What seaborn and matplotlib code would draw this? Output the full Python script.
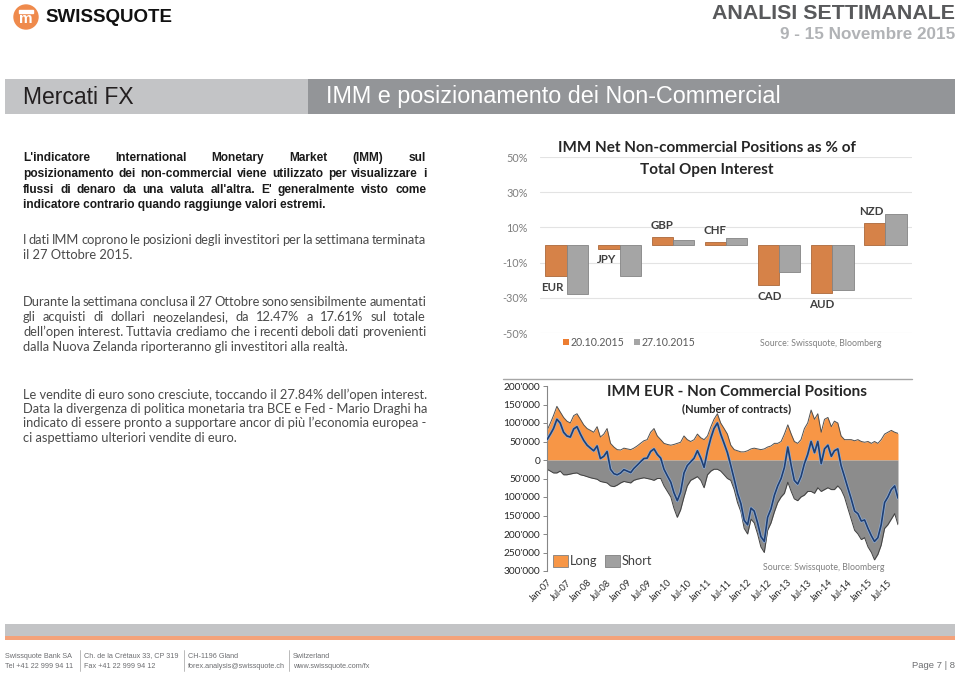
import numpy as np
import pandas as pd
import matplotlib
matplotlib.use('Agg')
import matplotlib.pyplot as plt
import matplotlib.dates as mdates
from matplotlib.patches import Rectangle, Ellipse
from matplotlib.lines import Line2D
import seaborn as sns

# --- chart 1: IMM net non-commercial positions (% of open interest)
currencies = ['EUR', 'JPY', 'GBP', 'CHF', 'CAD', 'AUD', 'NZD']
report_dates = ['20.10.2015', '27.10.2015']
pct_20oct = [-17.4, -2.1, 4.7, 1.9, -22.6, -27.5, 12.47]
pct_27oct = [-27.84, -17.8, 2.7, 4.0, -15.4, -25.6, 17.61]

# --- chart 2: IMM EUR non-commercial positions, monthly, thousands of contracts
eur_start = '2007-01-01'
eur_long = [80, 100, 120, 145, 130, 115, 105, 100, 120, 125, 110, 95,
            85, 80, 75, 90, 62, 70, 85, 45, 35, 28, 27, 32,
            30, 28, 32, 38, 45, 52, 55, 75, 85, 65, 55, 45,
            42, 40, 42, 45, 48, 65, 55, 50, 55, 70, 60, 55,
            65, 90, 110, 125, 100, 85, 70, 40, 28, 25, 22, 22,
            25, 30, 32, 30, 28, 30, 35, 38, 45, 45, 50, 70,
            95, 70, 50, 45, 55, 85, 100, 135, 110, 125, 75, 110,
            115, 90, 105, 100, 65, 55, 55, 55, 52, 55, 50, 48,
            50, 45, 50, 45, 55, 70, 75, 80, 75, 72]
eur_short = [-25, -30, -35, -35, -30, -40, -40, -38, -36, -35, -40, -42,
             -45, -48, -50, -52, -58, -60, -62, -70, -72, -68, -62, -58,
             -60, -62, -55, -52, -50, -48, -50, -52, -55, -50, -50, -70,
             -85, -100, -130, -155, -135, -100, -70, -55, -50, -45, -55, -75,
             -40, -30, -25, -25, -30, -40, -50, -55, -80, -115, -140, -185,
             -200, -160, -170, -200, -235, -250, -190, -170, -140, -115, -100, -90,
             -60, -85, -105, -110, -100, -95, -85, -85, -90, -75, -85, -80,
             -75, -80, -80, -70, -80, -100, -130, -160, -190, -200, -215, -210,
             -235, -250, -270, -255, -230, -185, -175, -160, -145, -175]

W, H = 960, 676
sns.set_theme(style='white')
plt.rcParams['font.family'] = ['Lato', 'DejaVu Sans']

fig = plt.figure(figsize=(W / 100, H / 100), dpi=100)
renderer = fig.canvas.get_renderer()


def fy(py):
    return 1 - py / H


def put_line(x, y, s, width=None, **kw):
    # one line of body text, optionally justified to a given pixel width
    if width is None:
        fig.text(x / W, fy(y), s, va='center', ha='left', **kw)
        return
    words = s.split(' ')
    arts = [fig.text(0, fy(y), w, va='center', ha='left', **kw) for w in words]
    widths = [a.get_window_extent(renderer).width for a in arts]
    gap = (width - sum(widths)) / (len(words) - 1)
    cur = x
    for a, w in zip(arts, widths):
        a.set_x(cur / W)
        cur += w + gap


narrow = ['Liberation Sans Narrow', 'Liberation Sans', 'DejaVu Sans']
arial = ['Liberation Sans', 'DejaVu Sans']

# ---------------- page header
fig.add_artist(Ellipse((26 / W, fy(17)), 24 / W, 24 / H, transform=fig.transFigure,
                       color='#ef8a4c', zorder=3))
fig.add_artist(Rectangle((19 / W, fy(12.5)), 14 / W, 2 / H, transform=fig.transFigure,
                         color='white', zorder=4))
fig.text(26 / W, fy(19), 'm', ha='center', va='center', color='white',
         fontsize=11, fontweight='bold', family=arial, zorder=5)
fig.text(45 / W, fy(17), 'SWISSQUOTE', ha='left', va='center', color='#111111',
         fontsize=13.5, fontweight='bold', family=narrow)
fig.text(955 / W, fy(19), 'ANALISI SETTIMANALE', ha='right', va='baseline',
         color='#58595b', fontsize=15.4, fontweight='bold', family=arial)
fig.text(955 / W, fy(39), '9 - 15 Novembre 2015', ha='right', va='baseline',
         color='#b1b3b6', fontsize=12.3, fontweight='bold', family=arial)

fig.add_artist(Rectangle((5 / W, fy(114)), 303 / W, 35 / H, transform=fig.transFigure,
                         color='#c3c4c6', lw=0))
fig.add_artist(Rectangle((308 / W, fy(114)), 647 / W, 35 / H, transform=fig.transFigure,
                         color='#939598', lw=0))
fig.text(23 / W, fy(97), 'Mercati FX', ha='left', va='center', color='#231f20',
         fontsize=16.5, family=arial)
fig.text(326 / W, fy(97), 'IMM e posizionamento dei Non-Commercial', ha='left',
         va='center', color='white', fontsize=16.8, family=arial)

# ---------------- left column text
bold_par = ["L'indicatore International Monetary Market (IMM) sul",
            "posizionamento dei non-commercial viene utilizzato per visualizzare i",
            "flussi di denaro da una valuta all'altra. E' generalmente visto come",
            "indicatore contrario quando raggiunge valori estremi."]
for i, (s, yy) in enumerate(zip(bold_par, [158, 174, 190, 205])):
    put_line(23, yy, s, width=403 if i < 3 else None, fontsize=8.6,
             fontweight='bold', color='#1a1a1a', family=arial)

body = dict(fontsize=9.3, color='#4a4a4a')
par2 = ["I dati IMM coprono le posizioni degli investitori per la settimana terminata",
        "il 27 Ottobre 2015."]
for i, (s, yy) in enumerate(zip(par2, [240, 255])):
    put_line(23, yy, s, width=403 if i == 0 else None, **body)

par3 = ["Durante la settimana conclusa il 27 Ottobre sono sensibilmente aumentati",
        "gli acquisti di dollari neozelandesi, da 12.47% a 17.61% sul totale",
        "dell\u2019open interest. Tuttavia crediamo che i recenti deboli dati provenienti",
        "dalla Nuova Zelanda riporteranno gli investitori alla realtà."]
for i, (s, yy) in enumerate(zip(par3, [302, 317, 332, 347])):
    put_line(23, yy, s, width=403 if i < 3 else None, **body)

par4 = ["Le vendite di euro sono cresciute, toccando il 27.84% dell\u2019open interest.",
        "Data la divergenza di politica monetaria tra BCE e Fed - Mario Draghi ha",
        "indicato di essere pronto a supportare ancor di più l\u2019economia europea -",
        "ci aspettiamo ulteriori vendite di euro."]
for s, yy in zip(par4, [395, 409, 423, 438]):
    put_line(23, yy, s, **body)

# ---------------- chart 1: grouped bars
orange, grey = '#ed7d31', '#a5a5a5'
df_pct = pd.DataFrame({
    'ccy': currencies * 2,
    'date': [report_dates[0]] * len(currencies) + [report_dates[1]] * len(currencies),
    'pct': pct_20oct + pct_27oct,
})
ax1 = fig.add_axes([540 / W, fy(333), 372 / W, 176 / H])
sns.barplot(data=df_pct, x='ccy', y='pct', hue='date', palette=[orange, grey],
            width=0.8, legend=False, ax=ax1, zorder=3)
for p in ax1.patches:
    fc = p.get_facecolor()
    p.set_edgecolor(tuple(c * 0.8 for c in fc[:3]))
    p.set_linewidth(0.6)
ax1.set_xlim(-0.5, 6.5)
ax1.set_ylim(-50, 50)
ax1.set_yticks([-50, -30, -10, 10, 30, 50])
ax1.set_yticklabels([f'{v}%' for v in [-50, -30, -10, 10, 30, 50]])
ax1.yaxis.grid(True, color='#e3e3e3', lw=0.8, zorder=0)
ax1.set_xticks([])
ax1.set_xlabel('')
ax1.set_ylabel('')
ax1.tick_params(axis='y', length=0, pad=9, labelsize=7.8, labelcolor='#7f7f7f')
sns.despine(ax=ax1, left=True, bottom=True)

label_pos = [(-0.26, -24.4), (0.75, -8), (1.79, 10.8), (2.80, 8),
             (3.82, -29), (4.81, -34), (5.73, 18.8)]
for ccy, (lx, ly) in zip(currencies, label_pos):
    ax1.text(lx, ly, ccy, ha='center', va='center', fontsize=8.3,
             fontweight='bold', color='#404040')

fig.text(707 / W, fy(148), 'IMM Net Non-commercial Positions as % of', ha='center',
         va='center', fontsize=11, fontweight='bold', color='#262626')
fig.text(707 / W, fy(170), 'Total Open Interest', ha='center', va='center',
         fontsize=11, fontweight='bold', color='#262626')
for col, lx, lab in [(orange, 563, report_dates[0]), (grey, 634, report_dates[1])]:
    fig.add_artist(Rectangle((lx / W, fy(345)), 6 / W, 6 / H,
                             transform=fig.transFigure, color=col, lw=0))
    fig.text((lx + 8) / W, fy(342), lab, ha='left', va='center', fontsize=7.6,
             color='#595959')
fig.text(760 / W, fy(343), 'Source: Swissquote, Bloomberg', ha='left', va='center',
         fontsize=6.3, color='#7f7f7f')

# ---------------- chart 2: EUR long / short / net
months = pd.date_range(eur_start, periods=len(eur_long), freq='MS')
df_eur = pd.DataFrame({'date': months,
                       'long': np.array(eur_long) * 1000,
                       'short': np.array(eur_short) * 1000})
df_eur['net'] = df_eur['long'] + df_eur['short']

fig.add_artist(Line2D([503 / W, 912 / W], [fy(379), fy(379)],
                      transform=fig.transFigure, color='#a6a6a6', lw=1))
ax2 = fig.add_axes([547 / W, fy(571), 351 / W, 185 / H])
ax2.fill_between(df_eur['date'], 0, df_eur['long'], color='#f79646', lw=0, zorder=1)
ax2.fill_between(df_eur['date'], df_eur['short'], 0, color='#8c8c8c', lw=0, zorder=1)
ax2.plot(df_eur['date'], df_eur['long'], color='#505050', lw=0.7, zorder=2)
ax2.plot(df_eur['date'], df_eur['short'], color='#404040', lw=0.7, zorder=2)
sns.lineplot(data=df_eur, x='date', y='net', color='#8fadd6', lw=2.2, ax=ax2, zorder=3)
sns.lineplot(data=df_eur, x='date', y='net', color='#1f3f73', lw=1.2, ax=ax2, zorder=4)
ax2.set_xlim(months[0], months[-1])
ax2.set_ylim(-300000, 200000)
ax2.set_yticks(np.arange(-300000, 200001, 50000))
ax2.yaxis.set_major_formatter(
    matplotlib.ticker.FuncFormatter(lambda v, p: f'{abs(int(v)):,}'.replace(',', "'")))
xt = pd.date_range('2007-01-01', '2015-07-01', freq='6MS')
ax2.set_xticks(xt)
ax2.xaxis.set_major_formatter(mdates.DateFormatter('%b-%y'))
plt.setp(ax2.get_xticklabels(), rotation=45, ha='right', rotation_mode='anchor')
ax2.tick_params(axis='x', length=0, pad=5, labelsize=6.6, labelcolor='#262626')
ax2.tick_params(axis='y', length=3, width=0.7, color='#868686', direction='out',
                pad=2, labelsize=7.3, labelcolor='#262626', left=True)
ax2.set_xlabel('')
ax2.set_ylabel('')
for s in ['top', 'right', 'bottom']:
    ax2.spines[s].set_visible(False)
ax2.spines['left'].set_color('#868686')
ax2.spines['left'].set_linewidth(0.8)
ax2.set_facecolor('none')

fig.text(737 / W, fy(392), 'IMM EUR - Non Commercial Positions', ha='center', va='center',
         fontsize=11, fontweight='bold', color='#262626')
fig.text(737 / W, fy(409), '(Number of contracts)', ha='center', va='center',
         fontsize=8, fontweight='bold', color='#262626')
for col, lx, lab in [('#f79646', 553, 'Long'), ('#a0a0a0', 605, 'Short')]:
    fig.add_artist(Rectangle((lx / W, fy(567)), 15 / W, 12 / H, transform=fig.transFigure,
                             facecolor=col, edgecolor='#7f7f7f', lw=0.6))
    fig.text((lx + 17) / W, fy(561), lab, ha='left', va='center', fontsize=9.2,
             color='#404040')
fig.text(763 / W, fy(568), 'Source: Swissquote, Bloomberg', ha='left', va='center',
         fontsize=6.3, color='#7f7f7f')

# ---------------- footer
fig.add_artist(Rectangle((5 / W, fy(636)), 950 / W, 12 / H, transform=fig.transFigure,
                         color='#c3c4c6', lw=0))
fig.add_artist(Rectangle((5 / W, fy(640)), 950 / W, 4 / H, transform=fig.transFigure,
                         color='#f4a27a', lw=0))
footer_cols = [(5, 'Swissquote Bank SA', 'Tel +41 22 999 94 11'),
               (84, 'Ch. de la Crétaux 33, CP 319', 'Fax +41 22 999 94 12'),
               (188, 'CH-1196 Gland', 'forex.analysis@swissquote.ch'),
               (293, 'Switzerland', 'www.swissquote.com/fx')]
for i, (fx0, l1, l2) in enumerate(footer_cols):
    fig.text(fx0 / W, fy(656), l1, ha='left', va='center', fontsize=5.2,
             color='#6d6e71', family=narrow)
    fig.text(fx0 / W, fy(666), l2, ha='left', va='center', fontsize=5.2,
             color='#6d6e71', family=narrow)
    if i > 0:
        fig.add_artist(Line2D([(fx0 - 4) / W] * 2, [fy(650), fy(671)],
                              transform=fig.transFigure, color='#b0b0b0', lw=0.6))
fig.text(955 / W, fy(665), 'Page 7 | 8', ha='right', va='center', fontsize=6.8,
         color='#6d6e71', family=narrow)

fig.savefig('out.png', dpi=100, facecolor='white')
